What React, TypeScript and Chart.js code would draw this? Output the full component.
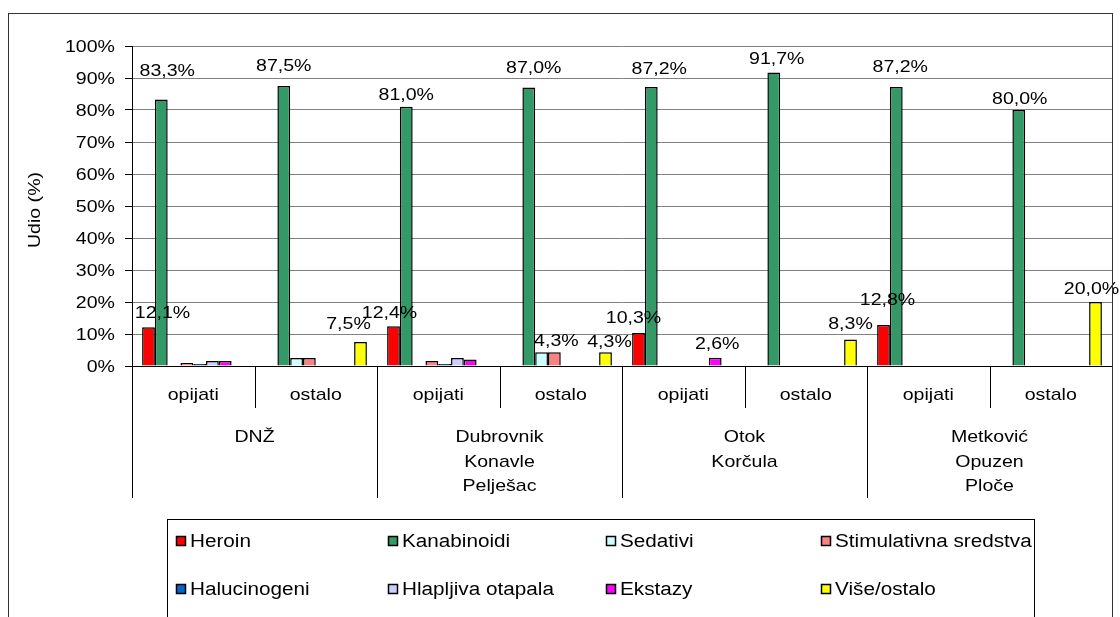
import React, { useEffect, useRef } from 'react';
import { Chart, registerables } from 'chart.js';

Chart.register(...registerables);

// ---- data ----
const categories = ['opijati', 'ostalo', 'opijati', 'ostalo', 'opijati', 'ostalo', 'opijati', 'ostalo'];
const regions = [['DNŽ'], ['Dubrovnik', 'Konavle', 'Pelješac'], ['Otok', 'Korčula'], ['Metković', 'Opuzen', 'Ploče']];

const seriesNames = [
  'Heroin',
  'Kanabinoidi',
  'Sedativi',
  'Stimulativna sredstva',
  'Halucinogeni',
  'Hlapljiva otapala',
  'Ekstazy',
  'Više/ostalo',
];

const heroin = [12.1, 0, 12.4, 0, 10.3, 0, 12.8, 0];
const kanabinoidi = [83.3, 87.5, 81.0, 87.0, 87.2, 91.7, 87.2, 80.0];
const sedativi = [0, 2.5, 0, 4.3, 0, 0, 0, 0];
const stimulativna = [0.9, 2.5, 1.6, 4.3, 0, 0, 0, 0];
const halucinogeni = [0.6, 0, 0.6, 0, 0, 0, 0, 0];
const hlapljiva = [1.6, 0, 2.5, 0, 0, 0, 0, 0];
const ekstazy = [1.6, 0, 2.0, 0, 2.6, 0, 0, 0];
const viseOstalo = [0, 7.5, 0, 4.3, 0, 8.3, 0, 20.0];

const seriesValues = [heroin, kanabinoidi, sedativi, stimulativna, halucinogeni, hlapljiva, ekstazy, viseOstalo];

const yTickValues = [0, 10, 20, 30, 40, 50, 60, 70, 80, 90, 100];
const yTickLabels = ['0%', '10%', '20%', '30%', '40%', '50%', '60%', '70%', '80%', '90%', '100%'];
const yTitle = 'Udio (%)';

// which bars carry a value label (series index, category index) and their nudges
const valueLabels = [
  { s: 0, c: 0, dx: 14, dy: 15 },
  { s: 1, c: 0, dx: 6, dy: 29 },
  { s: 1, c: 1, dx: 0, dy: 21 },
  { s: 7, c: 1, dx: -12, dy: 19 },
  { s: 0, c: 2, dx: -4, dy: 14 },
  { s: 1, c: 2, dx: 0, dy: 13 },
  { s: 1, c: 3, dx: 5, dy: 21 },
  { s: 3, c: 3, dx: 2, dy: 12 },
  { s: 7, c: 3, dx: 4, dy: 11 },
  { s: 0, c: 4, dx: -5, dy: 16 },
  { s: 1, c: 4, dx: 8, dy: 19 },
  { s: 6, c: 4, dx: 2, dy: 15 },
  { s: 1, c: 5, dx: 3, dy: 15 },
  { s: 7, c: 5, dx: 0, dy: 16 },
  { s: 0, c: 6, dx: 4, dy: 26 },
  { s: 1, c: 6, dx: 4, dy: 21 },
  { s: 1, c: 7, dx: 1, dy: 12 },
  { s: 7, c: 7, dx: -4, dy: 14 },
];

// ---- styles ----
const colors = ['#FF0000', '#339966', '#CCFFFF', '#FF8080', '#0066CC', '#CCCCFF', '#FF00FF', '#FFFF00'];
const FONT_FAMILY = '"Liberation Sans", Arial, sans-serif';
const FONT_SIZE = 17;
const LEGEND_FONT_SIZE = 18;
const STRETCH = 1.15;

function drawText(
  ctx: CanvasRenderingContext2D,
  text: string,
  x: number,
  y: number,
  align: CanvasTextAlign,
  size: number = FONT_SIZE
) {
  ctx.save();
  ctx.translate(x, y);
  ctx.scale(STRETCH, 1);
  ctx.font = `${size}px ${FONT_FAMILY}`;
  ctx.textAlign = align;
  ctx.textBaseline = 'alphabetic';
  ctx.fillStyle = '#000';
  ctx.fillText(text, 0, 0);
  ctx.restore();
}

const fmt = (v: number) => v.toFixed(1).replace('.', ',') + '%';

const decorPlugin = {
  id: 'decor',
  afterDraw(chart: any) {
    const ctx: CanvasRenderingContext2D = chart.ctx;
    const { left, right, top, bottom } = chart.chartArea;
    const xs = chart.scales.x;
    const ys = chart.scales.y;
    const n = categories.length;
    const w = (right - left) / n;

    // category axis separators
    ctx.save();
    ctx.strokeStyle = '#000';
    ctx.lineWidth = 1;
    for (let i = 0; i <= n; i++) {
      const x = Math.round(xs.getPixelForValue(0) - w / 2 + i * w) + 0.5;
      const end = i % 2 === 0 ? 498 : 408;
      ctx.beginPath();
      ctx.moveTo(x, bottom);
      ctx.lineTo(x, end);
      ctx.stroke();
    }
    ctx.restore();

    // category labels
    categories.forEach((c, i) => {
      drawText(ctx, c, xs.getPixelForValue(i), 400, 'center');
    });
    // region labels
    regions.forEach((lines, r) => {
      const cx = (xs.getPixelForValue(r * 2) + xs.getPixelForValue(r * 2 + 1)) / 2;
      lines.forEach((t, k) => drawText(ctx, t, cx, 442 + k * 24.7, 'center'));
    });

    // y tick labels
    yTickValues.forEach((v, i) => {
      drawText(ctx, yTickLabels[i], 115, ys.getPixelForValue(v) + 6, 'right');
    });

    // y title
    ctx.save();
    ctx.translate(35, (top + bottom) / 2 + 4);
    ctx.rotate(-Math.PI / 2);
    ctx.scale(STRETCH, 1);
    ctx.font = `${FONT_SIZE}px ${FONT_FAMILY}`;
    ctx.textAlign = 'center';
    ctx.textBaseline = 'middle';
    ctx.fillStyle = '#000';
    ctx.fillText(yTitle, 0, 0);
    ctx.restore();

    // value labels
    valueLabels.forEach(({ s, c, dx, dy }) => {
      const el = chart.getDatasetMeta(s).data[c];
      const v = seriesValues[s][c];
      if (!el || !v) return;
      drawText(ctx, fmt(v), el.x + dx, el.y - dy + 6, 'center');
    });

    // legend
    ctx.save();
    ctx.strokeStyle = '#000';
    ctx.lineWidth = 1;
    ctx.strokeRect(167.5, 519.5, 1034 - 167, 200);
    const colX = [176, 388, 606, 821];
    const rowY = [547, 595];
    seriesNames.forEach((name, i) => {
      const col = i % 4;
      const row = Math.floor(i / 4);
      const mx = colX[col];
      const my = rowY[row] - 11;
      ctx.fillStyle = colors[i];
      ctx.fillRect(mx, my, 10, 10);
      ctx.strokeStyle = '#000';
      ctx.lineWidth = 1.5;
      ctx.strokeRect(mx + 0.5, my + 0.5, 9, 9);
      drawText(ctx, name, mx + 14, rowY[row], 'left', LEGEND_FONT_SIZE);
    });
    ctx.restore();

    // outer frame
    ctx.save();
    ctx.strokeStyle = '#333';
    ctx.lineWidth = 1;
    ctx.strokeRect(8.5, 13.5, 1112 - 8, 700);
    ctx.restore();
  },
};

export default function App() {
  const ref = useRef<HTMLCanvasElement>(null);

  useEffect(() => {
    const canvas = ref.current;
    if (!canvas) return;
    const chart = new Chart(canvas, {
      type: 'bar',
      data: {
        labels: categories,
        datasets: seriesNames.map((name, i) => ({
          label: name,
          data: seriesValues[i].map((v) => (v === 0 ? null : v)),
          backgroundColor: colors[i],
          borderColor: '#000',
          borderWidth: 1.5,
          categoryPercentage: 0.835,
          barPercentage: 1,
        })),
      },
      options: {
        responsive: false,
        animation: false,
        devicePixelRatio: 1,
        layout: { padding: { left: 0, top: 46, right: 8, bottom: 251 } },
        plugins: {
          legend: { display: false },
          tooltip: { enabled: false },
          title: { display: false },
        },
        scales: {
          x: {
            display: false,
            offset: true,
          },
          y: {
            min: 0,
            max: 100,
            ticks: { stepSize: 10, display: false },
            grid: {
              color: (c: any) => (c.tick && c.tick.value === 0 ? '#000' : '#808080'),
              tickColor: '#000',
              tickLength: 7,
              drawTicks: true,
              lineWidth: 1,
            },
            border: { display: true, color: '#000', width: 1 },
            afterFit: (s: any) => {
              s.width = 132;
            },
          },
        },
      },
      plugins: [decorPlugin],
    });
    return () => chart.destroy();
  }, []);

  return (
    <div style={{ position: 'fixed', left: 0, top: 0, width: 1120, height: 617, background: '#fff' }}>
      <canvas ref={ref} width={1120} height={617} style={{ display: 'block', width: 1120, height: 617 }} />
    </div>
  );
}
